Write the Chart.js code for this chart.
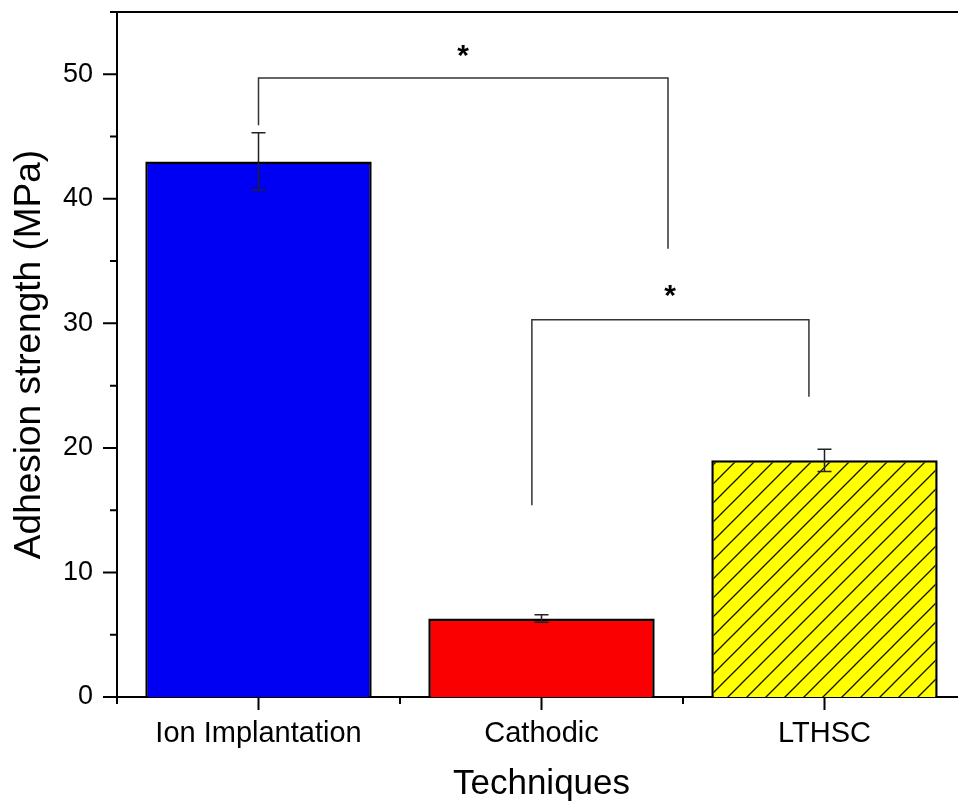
<!DOCTYPE html>
<html>
<head>
<meta charset="utf-8">
<script src="https://cdn.jsdelivr.net/npm/chart.js@4"></script>
<style>
  html, body { margin: 0; padding: 0; background: #fff; overflow: hidden; }
  #wrap { width: 980px; height: 802px; }
</style>
</head>
<body>
<div id="wrap"><canvas id="adhesion_Chart" width="980" height="802"></canvas></div>
<script>
// techniques and measured adhesion strength (MPa)
const techniques = ['Ion Implantation', 'Cathodic', 'LTHSC'];
const strength = [43.0, 6.3, 19.0];
const strengthErr = [2.3, 0.3, 0.9];

// y axis tick values
const yTickValues = [0, 10, 20, 30, 40, 50];
const yMinorTicks = [5, 15, 25, 35, 45, 55];

// significance brackets, in category-index / MPa units
const bracketA = [{x: 0, y: 45.9}, {x: 0, y: 49.7}, {x: 1.447, y: 49.7}, {x: 1.447, y: 36.0}];
const bracketB = [{x: 0.966, y: 15.4}, {x: 0.966, y: 30.3}, {x: 1.945, y: 30.3}, {x: 1.945, y: 24.1}];
const starLabels = [{x: 0.723, y: 51.8, text: '*'}, {x: 1.454, y: 32.5, text: '*'}];

const FONT = "'Liberation Sans', Arial, sans-serif";

// fill patterns for the bars
function dotPattern() {
  const c = document.createElement('canvas');
  c.width = 4; c.height = 4;
  const g = c.getContext('2d');
  g.fillStyle = '#0000fa';
  g.fillRect(0, 0, 4, 4);
  g.fillStyle = '#0000c0';
  g.fillRect(0, 0, 1, 1);
  g.fillRect(2, 2, 1, 1);
  return g.createPattern(c, 'repeat');
}

function hatchPattern() {
  const s = 19;
  const c = document.createElement('canvas');
  c.width = s; c.height = s;
  const g = c.getContext('2d');
  g.fillStyle = '#ffff00';
  g.fillRect(0, 0, s, s);
  g.strokeStyle = '#111';
  g.lineWidth = 1.3;
  g.beginPath();
  g.moveTo(-1, s + 1); g.lineTo(s + 1, -1);
  g.moveTo(-1, 1); g.lineTo(1, -1);
  g.moveTo(s - 1, s + 1); g.lineTo(s + 1, s - 1);
  g.stroke();
  return g.createPattern(c, 'repeat');
}

const ctx = document.getElementById('adhesion_Chart').getContext('2d');
const barFills = [dotPattern(), '#fb0000', hatchPattern()];

const decor = {
  id: 'decor',
  afterDatasetsDraw(chart) {
    const g = chart.ctx;
    const x = chart.scales.x, xl = chart.scales.xl, y = chart.scales.y;
    const area = chart.chartArea;
    g.save();

    // error bars
    g.strokeStyle = '#222';
    g.lineWidth = 1.5;
    strength.forEach((v, i) => {
      const px = x.getPixelForValue(i);
      const top = y.getPixelForValue(v + strengthErr[i]);
      const bot = y.getPixelForValue(v - strengthErr[i]);
      g.beginPath();
      g.moveTo(px, top); g.lineTo(px, bot);
      g.moveTo(px - 7, top); g.lineTo(px + 7, top);
      g.moveTo(px - 7, bot); g.lineTo(px + 7, bot);
      g.stroke();
    });

    // frame top line and tick marks
    g.strokeStyle = '#000';
    g.lineWidth = 2;
    g.beginPath();
    g.moveTo(area.left - 1, area.top); g.lineTo(area.right, area.top);
    yTickValues.forEach(v => {
      const py = y.getPixelForValue(v);
      g.moveTo(area.left - 14, py); g.lineTo(area.left, py);
    });
    yMinorTicks.forEach(v => {
      const py = y.getPixelForValue(v);
      g.moveTo(area.left - 7, py); g.lineTo(area.left, py);
    });
    techniques.forEach((t, i) => {
      const px = x.getPixelForValue(i);
      g.moveTo(px, area.bottom); g.lineTo(px, area.bottom + 13);
    });
    [-0.5, 0.5, 1.5, 2.5].forEach(v => {
      const px = xl.getPixelForValue(v);
      g.moveTo(px, area.bottom); g.lineTo(px, area.bottom + 7);
    });
    g.stroke();

    // significance stars
    g.fillStyle = '#000';
    g.font = 'bold 30px ' + FONT;
    g.textAlign = 'center';
    g.textBaseline = 'middle';
    starLabels.forEach(s => {
      g.fillText(s.text, xl.getPixelForValue(s.x), y.getPixelForValue(s.y) + 5);
    });
    g.restore();
  }
};

const data = {
  labels: techniques,
  datasets: [{
    type: 'bar',
    label: 'Adhesion strength',
    data: strength,
    backgroundColor: barFills,
    borderColor: '#000',
    borderWidth: 2.5,
    barPercentage: 0.8,
    categoryPercentage: 1.0,
    grouped: false,
    order: 2
  }, {
    type: 'line',
    label: 'bracket A',
    data: bracketA,
    xAxisID: 'xl',
    borderColor: '#333',
    borderWidth: 1.5,
    pointRadius: 0,
    fill: false,
    order: 1
  }, {
    type: 'line',
    label: 'bracket B',
    data: bracketB,
    xAxisID: 'xl',
    borderColor: '#333',
    borderWidth: 1.5,
    pointRadius: 0,
    fill: false,
    order: 1
  }]
};

const config = {
  data: data,
  options: {
    responsive: false,
    animation: false,
    layout: { padding: { top: 12, right: 14, left: 0, bottom: 0 } },
    plugins: { legend: { display: false }, tooltip: { enabled: false } },
    scales: {
      x: {
        type: 'category',
        offset: true,
        grid: { display: false, drawTicks: false },
        border: { display: true, color: '#000', width: 2 },
        ticks: { color: '#000', padding: 20, font: { family: FONT, size: 29 } },
        title: {
          display: true, text: 'Techniques', color: '#000',
          font: { family: FONT, size: 35, lineHeight: 1 }, padding: { top: 0, bottom: 0 }
        },
        afterFit(scale) { scale.height = 105; scale.paddingLeft = 0; scale.paddingRight = 0; }
      },
      xl: {
        type: 'linear',
        display: false,
        min: -0.5,
        max: 2.5
      },
      y: {
        min: 0,
        max: 55,
        grid: { display: false, drawTicks: false },
        border: { display: true, color: '#000', width: 2 },
        ticks: { color: '#000', padding: 24, font: { family: FONT, size: 27 } },
        afterBuildTicks(scale) { scale.ticks = yTickValues.map(v => ({ value: v })); },
        title: {
          display: true, text: 'Adhesion strength (MPa)', color: '#000',
          font: { family: FONT, size: 37, lineHeight: 1 }, padding: { top: 11, bottom: 0 }
        },
        afterFit(scale) { scale.width = 117; scale.paddingTop = 0; scale.paddingBottom = 0; }
      }
    }
  },
  plugins: [decor]
};

const myChart = new Chart(ctx, config);
</script>
</body>
</html>
